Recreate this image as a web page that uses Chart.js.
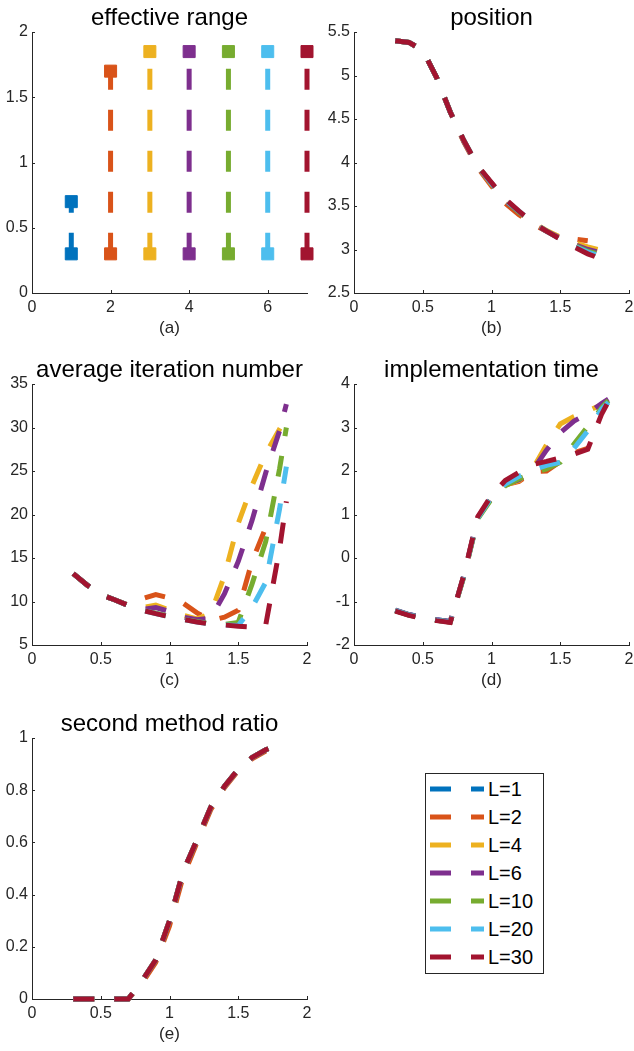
<!DOCTYPE html>
<html>
<head>
<meta charset="utf-8">
<script src="https://cdn.jsdelivr.net/npm/chart.js@4.4.1/dist/chart.umd.min.js"></script>
<style>
  body { margin: 0; background: #fff; }
  #page { position: relative; width: 634px; height: 1051px; overflow: hidden; background: #fff; }
  #page canvas { position: absolute; }
  #legend { position: absolute; left: 425px; top: 773px; width: 119px; height: 201px;
            box-sizing: border-box; border: 1px solid #262626; background: #fff; }
  #legend svg { position: absolute; left: 0; top: 0; }
</style>
</head>
<body>
<div id="page">
  <canvas id="pa" width="317" height="340" style="left:0px;top:0px"></canvas>
  <canvas id="pb" width="317" height="340" style="left:322px;top:0px"></canvas>
  <canvas id="pc" width="317" height="340" style="left:0px;top:352px"></canvas>
  <canvas id="pd" width="317" height="340" style="left:322px;top:352px"></canvas>
  <canvas id="pe" width="317" height="340" style="left:0px;top:706px"></canvas>
  <div id="legend"></div>
</div>
<script>
const seriesLabels = ['L=1', 'L=2', 'L=4', 'L=6', 'L=10', 'L=20', 'L=30'];
const colors = ['#0072BD', '#D95319', '#EDB120', '#7E2F8E', '#77AC30', '#4DBEEE', '#A2142F'];

// (a) effective range
const rangeX = [1, 2, 3, 4, 5, 6, 7];
const rangeLow = [0.3, 0.3, 0.3, 0.3, 0.3, 0.3, 0.3];
const rangeHigh = [0.7, 1.7, 1.85, 1.85, 1.85, 1.85, 1.85];

// x grids (each L runs over its effective range)
const xTo07 = [0.3, 0.4, 0.5, 0.6, 0.7];
const xTo17 = [0.3, 0.4, 0.5, 0.6, 0.7, 0.8, 0.9, 1.0, 1.1, 1.2, 1.3, 1.4, 1.5, 1.6, 1.7];
const xTo185 = [0.3, 0.4, 0.5, 0.6, 0.7, 0.8, 0.9, 1.0, 1.1, 1.2, 1.3, 1.4, 1.5, 1.6, 1.7, 1.8, 1.85];
const seriesX = [xTo07, xTo17, xTo185, xTo185, xTo185, xTo185, xTo185];

// (b) position
const posL1 = [5.40, 5.38, 5.29, 4.98, 4.58];
const posL2 = [5.40, 5.38, 5.29, 4.98, 4.58, 4.23, 3.94, 3.73, 3.53, 3.40, 3.29, 3.21, 3.14, 3.12, 3.10];
const posL4 = [5.40, 5.38, 5.29, 4.98, 4.58, 4.24, 3.95, 3.75, 3.56, 3.43, 3.31, 3.22, 3.14, 3.08, 3.03, 2.99, 2.97];
const posL6 = [5.40, 5.38, 5.29, 4.98, 4.58, 4.24, 3.95, 3.76, 3.56, 3.43, 3.31, 3.21, 3.13, 3.06, 3.00, 2.96, 2.94];
const posL10 = [5.40, 5.38, 5.29, 4.98, 4.58, 4.25, 3.96, 3.76, 3.57, 3.43, 3.31, 3.21, 3.12, 3.05, 2.98, 2.94, 2.92];
const posL20 = [5.40, 5.38, 5.29, 4.98, 4.58, 4.25, 3.96, 3.76, 3.57, 3.44, 3.31, 3.21, 3.12, 3.04, 2.97, 2.92, 2.90];
const posL30 = [5.40, 5.38, 5.29, 4.98, 4.58, 4.25, 3.96, 3.77, 3.58, 3.44, 3.31, 3.21, 3.12, 3.03, 2.95, 2.89, 2.87];

// (c) average iteration number
const iterL1 = [13.2, 11.9, 10.8, 10.2, 9.55];
const iterL2 = [13.2, 11.9, 10.8, 10.2, 9.6, 10.3, 10.8, 10.4, 9.8, 8.7, 7.8, 8.2, 9.0, 14.6, 18.5];
const iterL4 = [13.2, 11.9, 10.8, 10.2, 9.55, 9.3, 9.6, 9.0, 8.4, 8.0, 8.6, 13.0, 19.0, 23.3, 27.0, 29.8, 31.2];
const iterL6 = [13.2, 11.9, 10.8, 10.2, 9.55, 9.1, 9.3, 8.85, 8.2, 7.9, 8.1, 10.9, 14.6, 19.3, 24.8, 29.6, 32.7];
const iterL10 = [13.2, 11.9, 10.8, 10.2, 9.55, 9.0, 8.65, 8.3, 7.95, 7.7, 7.45, 7.35, 7.6, 12.0, 16.9, 25.2, 30.0];
const iterL20 = [13.2, 11.9, 10.8, 10.2, 9.55, 9.0, 8.6, 8.25, 7.95, 7.65, 7.4, 7.3, 7.25, 9.3, 12.2, 20.6, 25.5];
const iterL30 = [13.2, 11.9, 10.8, 10.2, 9.55, 9.0, 8.6, 8.25, 7.95, 7.65, 7.4, 7.3, 7.15, 7.05, 7.3, 16.0, 21.5];

// (d) implementation time
const timeL1 = [-1.20, -1.30, -1.37, -1.42, -1.46];
const timeL2 = [-1.21, -1.31, -1.38, -1.43, -1.47, -0.40, 0.92, 1.38, 1.68, 1.76, 1.98, 2.00, 2.22, 2.42, 2.52];
const timeL4 = [-1.21, -1.31, -1.38, -1.43, -1.47, -0.40, 0.92, 1.38, 1.68, 1.78, 2.05, 2.60, 3.08, 3.25, 3.38, 3.52, 3.58];
const timeL6 = [-1.20, -1.30, -1.37, -1.42, -1.46, -0.39, 0.93, 1.39, 1.69, 1.80, 2.02, 2.48, 2.88, 3.15, 3.32, 3.55, 3.65];
const timeL10 = [-1.21, -1.31, -1.38, -1.43, -1.47, -0.42, 0.90, 1.36, 1.66, 1.82, 1.95, 2.05, 2.20, 2.62, 3.02, 3.45, 3.62];
const timeL20 = [-1.21, -1.31, -1.38, -1.43, -1.47, -0.40, 0.92, 1.40, 1.70, 1.88, 2.02, 2.13, 2.20, 2.52, 2.92, 3.42, 3.58];
const timeL30 = [-1.22, -1.32, -1.39, -1.44, -1.48, -0.38, 0.95, 1.44, 1.78, 1.97, 2.15, 2.22, 2.30, 2.39, 2.50, 3.30, 3.60];

// (e) second method ratio
const ratioL1 = [0, 0, 0, 0, 0];
const ratioL2 = [0, 0, 0, 0, 0, 0.06, 0.14, 0.28, 0.47, 0.60, 0.725, 0.81, 0.875, 0.92, 0.95];
const ratioL4 = [0, 0, 0, 0, 0, 0.07, 0.15, 0.30, 0.49, 0.61, 0.735, 0.815, 0.88, 0.925, 0.955, 0.975, 0.985];
const ratioL6 = [0, 0, 0, 0, 0, 0.07, 0.15, 0.30, 0.49, 0.61, 0.735, 0.815, 0.88, 0.925, 0.955, 0.975, 0.985];
const ratioL10 = [0, 0, 0, 0, 0, 0.07, 0.15, 0.30, 0.49, 0.61, 0.735, 0.815, 0.88, 0.925, 0.955, 0.975, 0.985];
const ratioL20 = [0, 0, 0, 0, 0, 0.07, 0.15, 0.30, 0.49, 0.61, 0.735, 0.815, 0.88, 0.925, 0.955, 0.975, 0.985];
const ratioL30 = [0, 0, 0, 0, 0, 0.07, 0.15, 0.30, 0.49, 0.61, 0.735, 0.815, 0.88, 0.925, 0.955, 0.975, 0.985];

// tick labels
const ticksRangeX = [0, 2, 4, 6];
const ticksRangeY = [0, 0.5, 1, 1.5, 2];
const ticksX = [0, 0.5, 1, 1.5, 2];
const ticksPos = [2.5, 3, 3.5, 4, 4.5, 5, 5.5];
const ticksIter = [5, 10, 15, 20, 25, 30, 35];
const ticksTime = [-2, -1, 0, 1, 2, 3, 4];
const ticksRatio = [0, 0.2, 0.4, 0.6, 0.8, 1];

const FONT = '"Liberation Sans", Arial, Helvetica, sans-serif';
const AXIS = '#262626';

// titles and inward ticks, MATLAB style
const panelPlugin = {
    id: 'panel',
    afterDraw(chart, args, opts) {
        const { ctx, chartArea: a, scales } = chart;
        const cx = (a.left + a.right) / 2;
        ctx.save();
        ctx.strokeStyle = AXIS;
        ctx.lineWidth = 1;
        ctx.beginPath();
        scales.x.ticks.forEach(t => {
            const px = Math.round(scales.x.getPixelForValue(t.value)) + 0.5;
            ctx.moveTo(px, a.bottom);
            ctx.lineTo(px, a.bottom - 3);
        });
        scales.y.ticks.forEach(t => {
            const py = Math.round(scales.y.getPixelForValue(t.value)) + 0.5;
            ctx.moveTo(a.left, py);
            ctx.lineTo(a.left + 3, py);
        });
        ctx.stroke();
        ctx.textAlign = 'center';
        ctx.textBaseline = 'alphabetic';
        ctx.fillStyle = '#000';
        ctx.font = '24px ' + FONT;
        ctx.fillText(opts.title, cx, a.top - 7);
        ctx.fillStyle = AXIS;
        ctx.font = '17px ' + FONT;
        ctx.fillText(opts.label, cx, a.bottom + 40);
        ctx.restore();
    }
};

function axis(min, max, tickValues, isX) {
    return {
        type: 'linear',
        min: min,
        max: max,
        afterBuildTicks: s => { s.ticks = tickValues.map(v => ({ value: v })); },
        afterFit: s => { if (isX) s.height = 47; else s.width = 32; },
        grid: { display: false, drawTicks: false },
        border: { display: true, color: AXIS, width: 1 },
        ticks: {
            autoSkip: false,
            maxRotation: 0,
            padding: isX ? 5 : 4,
            color: AXIS,
            font: { family: FONT, size: 16 },
            callback: v => String(v)
        }
    };
}

function lineSets(ys) {
    return ys.map((arr, i) => ({
        label: seriesLabels[i],
        data: seriesX[i].map((x, k) => ({ x: x, y: arr[k] })),
        borderColor: colors[i],
        backgroundColor: colors[i],
        borderWidth: 5,
        borderDash: [21, 20],
        borderCapStyle: 'butt',
        pointRadius: 0,
        fill: false,
        order: 6 - i,
        clip: false
    }));
}

function makePanel(id, title, label, datasets, xAxis, yAxis) {
    return new Chart(document.getElementById(id), {
        type: 'line',
        data: { datasets: datasets },
        options: {
            responsive: false,
            animation: false,
            events: [],
            layout: { padding: { top: 32, right: 10, left: 0, bottom: 0 } },
            scales: { x: xAxis, y: yAxis },
            plugins: {
                legend: { display: false },
                tooltip: { enabled: false },
                panel: { title: title, label: label }
            }
        },
        plugins: [panelPlugin]
    });
}

const rangeSets = rangeX.map((x, i) => ({
    label: seriesLabels[i],
    data: [{ x: x, y: rangeLow[i] }, { x: x, y: rangeHigh[i] }],
    borderColor: colors[i],
    backgroundColor: colors[i],
    borderWidth: 5,
    borderDash: [21, 20],
    borderCapStyle: 'butt',
    pointStyle: 'rect',
    pointRadius: 8.5,
    pointBorderWidth: 1,
    pointBackgroundColor: colors[i],
    pointBorderColor: colors[i],
    fill: false,
    order: 6 - i,
    clip: false
}));

makePanel('pa', 'effective range', '(a)', rangeSets,
    axis(0, 7, ticksRangeX, true), axis(0, 2, ticksRangeY, false));
makePanel('pb', 'position', '(b)',
    lineSets([posL1, posL2, posL4, posL6, posL10, posL20, posL30]),
    axis(0, 2, ticksX, true), axis(2.5, 5.5, ticksPos, false));
makePanel('pc', 'average iteration number', '(c)',
    lineSets([iterL1, iterL2, iterL4, iterL6, iterL10, iterL20, iterL30]),
    axis(0, 2, ticksX, true), axis(5, 35, ticksIter, false));
makePanel('pd', 'implementation time', '(d)',
    lineSets([timeL1, timeL2, timeL4, timeL6, timeL10, timeL20, timeL30]),
    axis(0, 2, ticksX, true), axis(-2, 4, ticksTime, false));
makePanel('pe', 'second method ratio', '(e)',
    lineSets([ratioL1, ratioL2, ratioL4, ratioL6, ratioL10, ratioL20, ratioL30]),
    axis(0, 2, ticksX, true), axis(0, 1, ticksRatio, false));

// legend box
const legendBox = document.getElementById('legend');
let svg = '<svg width="117" height="199" xmlns="http://www.w3.org/2000/svg">';
seriesLabels.forEach((name, i) => {
    const cy = 15 + 28 * i;
    svg += '<line x1="4" y1="' + cy + '" x2="58" y2="' + cy + '" stroke="' + colors[i] +
           '" stroke-width="5" stroke-dasharray="21 20"/>';
    svg += '<text x="62" y="' + (cy + 7) + '" font-family=\'' + FONT + '\' font-size="20" fill="#000">' +
           name + '</text>';
});
svg += '</svg>';
legendBox.innerHTML = svg;
</script>
</body>
</html>
